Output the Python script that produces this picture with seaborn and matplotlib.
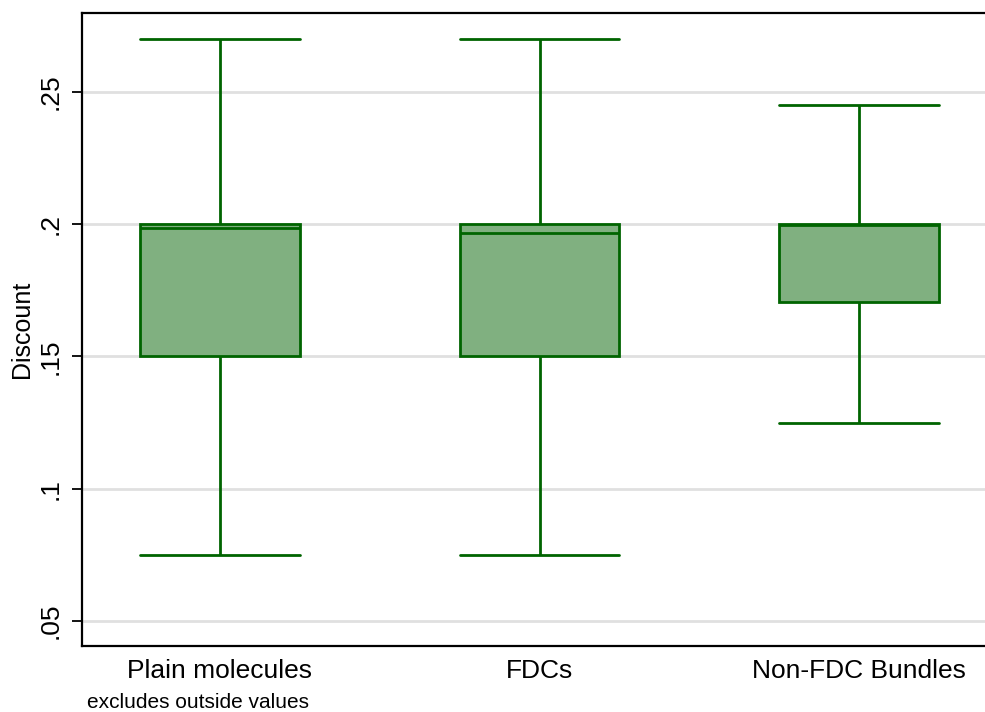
import pandas as pd
import matplotlib
matplotlib.use("Agg")
import matplotlib.pyplot as plt
import seaborn as sns

# five-number summaries (min, q1, median, q3, max)
groups = ["Plain molecules", "FDCs", "Non-FDC Bundles"]
plain_vals = [0.075, 0.150, 0.1985, 0.200, 0.270]
fdc_vals = [0.075, 0.150, 0.1966, 0.200, 0.270]
bundle_vals = [0.125, 0.1705, 0.1998, 0.200, 0.245]

yticks = [0.05, 0.10, 0.15, 0.20, 0.25]
ytick_labels = [".05", ".1", ".15", ".2", ".25"]

df = pd.DataFrame({
    "group": [groups[0]] * 5 + [groups[1]] * 5 + [groups[2]] * 5,
    "Discount": plain_vals + fdc_vals + bundle_vals,
})

sns.set_style("white")
plt.rcParams["font.family"] = ["Liberation Sans", "DejaVu Sans"]
plt.rcParams["text.color"] = "black"
plt.rcParams["axes.labelcolor"] = "black"
plt.rcParams["xtick.color"] = "black"
plt.rcParams["ytick.color"] = "black"

fig = plt.figure(figsize=(9.85, 7.12), dpi=100)
ax = fig.add_axes([0.0832, 0.0927, 0.9168, 0.889])

dark_green = "#006400"
for y in yticks:
    ax.axhline(y, color="#e0e0e0", lw=2, zorder=0)

sns.boxplot(
    data=df, x="group", y="Discount", order=groups,
    whis=(0, 100), width=0.5, color="#80b080", linecolor=dark_green,
    linewidth=2, saturation=1, ax=ax,
    capwidths=0.5,
    boxprops=dict(facecolor="#80b080", edgecolor=dark_green, zorder=2),
)

ax.set_xlim(-0.432, 2.394)
ax.set_ylim(0.0405, 0.2799)
ax.set_yticks(yticks)
ax.set_yticklabels(ytick_labels, rotation=90, va="center", fontsize=19)
ax.tick_params(axis="y", left=True, length=7, width=1.3, pad=7)
ax.tick_params(axis="x", bottom=False, labelsize=19, pad=6)
ax.set_xlabel("")
ax.set_ylabel("Discount", fontsize=18, labelpad=3)

for side in ["left", "top", "bottom"]:
    ax.spines[side].set_color("black")
    ax.spines[side].set_linewidth(1.6)
ax.spines["right"].set_visible(False)

fig.text(87 / 985, 1 - 708 / 712, "excludes outside values", fontsize=15,
         ha="left", va="baseline")

fig.savefig("out.png", dpi=100)
